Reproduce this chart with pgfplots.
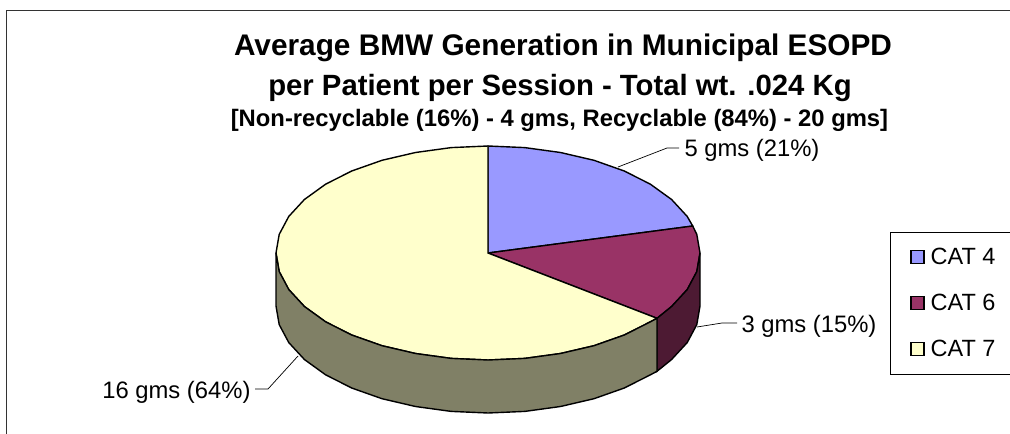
\documentclass[border=0pt]{standalone}
\usepackage{fontspec}
\setmainfont{Liberation Sans}
\usepackage{pgfplots}
\pgfplotsset{compat=1.18}
\definecolor{catfour}{HTML}{9999FF}
\definecolor{catsix}{HTML}{993366}
\definecolor{catseven}{HTML}{FFFFCC}
\definecolor{sidesix}{HTML}{4D1A33}
\definecolor{sideseven}{HTML}{808066}

\begin{document}
\begin{tikzpicture}
\useasboundingbox (0,0) rectangle (1010pt,434pt);
\begin{axis}[
  scale only axis, width=1010pt, height=434pt,
  xmin=0, xmax=1010, ymin=0, ymax=434, y dir=reverse,
  hide axis, clip=true,
  legend style={at={(0.8812,0.4654)}, anchor=north west, draw=black, line width=0.9pt,
    font=\fontsize{23.5}{26}\selectfont, row sep=24pt, inner xsep=20pt, inner ysep=14pt},
  legend cell align=left,
  legend image code/.code={
    \draw[#1, line width=1.1pt] (0pt,-6.5pt) rectangle (13pt,6.5pt);
    \path (17pt,0pt);
  },
]

% top faces
\addplot[draw=black, line width=1.4pt, fill=catfour] coordinates {
  (488,253)(488,146)(524.8,147.6)(560.5,152.5)(594,160.3)(624.3,171)
  (650.4,184.2)(671.6,199.5)(687.2,216.4)(692.7,226)
} --cycle;
\addlegendentry{CAT 4}

\addplot[draw=black, line width=1.4pt, fill=catsix] coordinates {
  (488,253)(692.7,226)(696.8,234.4)(700,253)(696.8,271.6)(687.2,289.6)
  (671.6,306.5)(657,318.3)
} --cycle;
\addlegendentry{CAT 6}

\addplot[draw=black, line width=1.4pt, fill=catseven] coordinates {
  (488,253)(657,318.3)(650.4,321.8)(624.3,335)(594,345.7)(560.5,353.5)
  (524.8,358.4)(488,360)(451.2,358.4)(415.5,353.5)(382,345.7)(351.7,335)
  (325.6,321.8)(304.4,306.5)(288.8,289.6)(279.2,271.6)(276,253)(279.2,234.4)
  (288.8,216.4)(304.4,199.5)(325.6,184.2)(351.7,171)(382,160.3)(415.5,152.5)
  (451.2,147.6)(488,146)
} --cycle;
\addlegendentry{CAT 7}

% side walls
\addplot[forget plot, draw=black, line width=1.4pt, fill=sidesix] coordinates {
  (657,318.3)(671.6,306.5)(687.2,289.6)(696.8,271.6)(700,253)
  (700,306)(696.8,324.6)(687.2,342.6)(671.6,359.5)(657,371.3)
} --cycle;
\addplot[forget plot, draw=black, line width=1.4pt, fill=sideseven] coordinates {
  (276,253)(279.2,271.6)(288.8,289.6)(304.4,306.5)(325.6,321.8)(351.7,335)
  (382,345.7)(415.5,353.5)(451.2,358.4)(488,360)(524.8,358.4)(560.5,353.5)
  (594,345.7)(624.3,335)(650.4,321.8)(657,318.3)
  (657,371.3)(650.4,374.8)(624.3,388)(594,398.7)(560.5,406.5)(524.8,411.4)
  (488,413)(451.2,411.4)(415.5,406.5)(382,398.7)(351.7,388)(325.6,374.8)
  (304.4,359.5)(288.8,342.6)(279.2,324.6)(276,306)
} --cycle;

% leader lines
\addplot[forget plot, black, line width=0.7pt] coordinates {(618,167)(667,148)(679,148)};
\addplot[forget plot, black, line width=0.7pt] coordinates {(697,327)(722,323)(737,323)};
\addplot[forget plot, black, line width=0.7pt] coordinates {(298,356)(268,389)(255,389)};

% chart frame
\addplot[forget plot, black!80, line width=1.2pt] coordinates {(6.7,434)(6.7,10.7)(1010,10.7)};

% title
\node[anchor=base, font=\fontsize{29.8}{32}\bfseries\selectfont] at (axis cs:563,55) {Average BMW Generation in Municipal ESOPD};
\node[anchor=base, font=\fontsize{29.3}{32}\bfseries\selectfont] at (axis cs:560,95) {per Patient per Session - Total wt. .024 Kg};
\node[anchor=base, font=\fontsize{23.8}{26}\bfseries\selectfont] at (axis cs:559.5,126) {[Non-recyclable (16\%) - 4 gms, Recyclable (84\%) - 20 gms]};

% data labels
\node[anchor=base west, font=\fontsize{23.8}{26}\selectfont] at (axis cs:681,156) {5 gms (21\%)};
\node[anchor=base west, font=\fontsize{23.8}{26}\selectfont] at (axis cs:738,332) {3 gms (15\%)};
\node[anchor=base east, font=\fontsize{23.8}{26}\selectfont] at (axis cs:254,398) {16 gms (64\%)};

\end{axis}
\end{tikzpicture}
\end{document}
